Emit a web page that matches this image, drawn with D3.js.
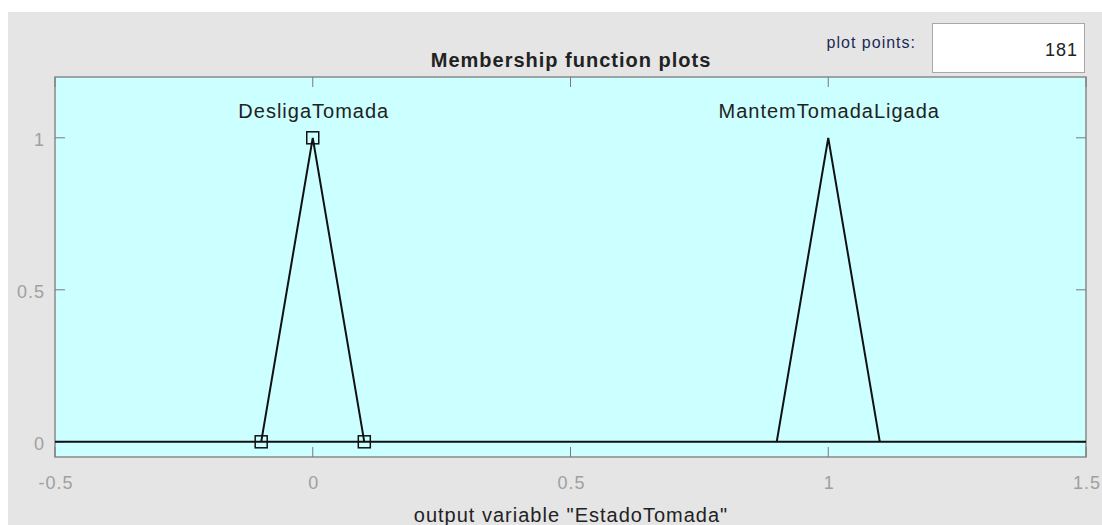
<!DOCTYPE html>
<html>
<head>
<meta charset="utf-8">
<script src="https://cdn.jsdelivr.net/npm/d3@7"></script>
<style>
  body { margin: 0; background: #fff; }
  text { font-family: 'Liberation Sans', Arial, sans-serif; letter-spacing: 1px; }
</style>
</head>
<body>
<script>
// membership functions (triangular), output variable "EstadoTomada"
const mfNames = ["DesligaTomada", "MantemTomadaLigada"];
const mfParams = [[-0.1, 0, 0.1], [0.9, 1, 1.1]];
const selectedMf = 0;
const xTicks = [-0.5, 0, 0.5, 1, 1.5];
const yTicks = [0, 0.5, 1];
const xRange = [-0.5, 1.5];
const plotPoints = 181;

const W = 1102, H = 525;
const plot = { left: 55, top: 77, right: 1086, bottom: 457 };

const svg = d3.select("body").append("svg").attr("width", W).attr("height", H);

svg.append("rect").attr("x", 8).attr("y", 12).attr("width", W - 8).attr("height", H - 12)
  .attr("fill", "#e5e5e5");

const x = d3.scaleLinear().domain(xRange).range([plot.left, plot.right]);
const y = d3.scaleLinear().domain([-0.05, 1.2]).range([plot.bottom, plot.top]);

// header
svg.append("text").attr("x", 571).attr("y", 67).attr("text-anchor", "middle")
  .attr("font-size", 20).attr("font-weight", "bold").attr("fill", "#222")
  .text("Membership function plots");
svg.append("text").attr("x", 916).attr("y", 48).attr("text-anchor", "end")
  .attr("font-size", 16).attr("fill", "#1c2a55").text("plot points:");
svg.append("rect").attr("x", 932.5).attr("y", 23.5).attr("width", 152).attr("height", 49)
  .attr("fill", "#fff").attr("stroke", "#a8a8a8");
svg.append("text").attr("x", 1078).attr("y", 56).attr("text-anchor", "end")
  .attr("font-size", 18).attr("fill", "#222").text(plotPoints);

// plot background
svg.append("rect").attr("x", plot.left).attr("y", plot.top)
  .attr("width", plot.right - plot.left).attr("height", plot.bottom - plot.top)
  .attr("fill", "#ccffff").attr("stroke", "#8a8a8a").attr("stroke-width", 1.5);

const tick = 10;
const g = svg.append("g").attr("stroke", "#7a7a7a").attr("stroke-width", 1);
xTicks.forEach(v => {
  g.append("line").attr("x1", x(v)).attr("x2", x(v)).attr("y1", plot.bottom).attr("y2", plot.bottom - tick);
  g.append("line").attr("x1", x(v)).attr("x2", x(v)).attr("y1", plot.top).attr("y2", plot.top + tick);
});
yTicks.forEach(v => {
  g.append("line").attr("x1", plot.left).attr("x2", plot.left + tick).attr("y1", y(v)).attr("y2", y(v));
  g.append("line").attr("x1", plot.right).attr("x2", plot.right - tick).attr("y1", y(v)).attr("y2", y(v));
});

svg.selectAll(".xl").data(xTicks).join("text")
  .attr("x", d => x(d) + 1).attr("y", 489).attr("text-anchor", "middle")
  .attr("font-size", 18).attr("fill", "#a0a0a0").text(d => d);
svg.selectAll(".yl").data(yTicks).join("text")
  .attr("x", 45).attr("y", d => y(d) + 8).attr("text-anchor", "end")
  .attr("font-size", 18).attr("fill", "#a0a0a0").text(d => d);

svg.append("text").attr("x", 571).attr("y", 522).attr("text-anchor", "middle")
  .attr("font-size", 20).attr("fill", "#222").text('output variable "EstadoTomada"');

// baseline
svg.append("line").attr("x1", x(xRange[0])).attr("x2", x(xRange[1]))
  .attr("y1", y(0)).attr("y2", y(0)).attr("stroke", "#111").attr("stroke-width", 2);

const lineGen = d3.line().x(d => x(d[0])).y(d => y(d[1]));
mfParams.forEach((p, i) => {
  const pts = [[p[0], 0], [p[1], 1], [p[2], 0]];
  svg.append("path").attr("d", lineGen(pts)).attr("fill", "none")
    .attr("stroke", "#111").attr("stroke-width", 2);
  svg.append("text").attr("x", x(p[1]) + 1).attr("y", 118).attr("text-anchor", "middle")
    .attr("font-size", 20).attr("fill", "#222").text(mfNames[i]);
  if (i === selectedMf) {
    svg.selectAll(null).data(pts).join("rect")
      .attr("x", d => x(d[0]) - 6).attr("y", d => y(d[1]) - 6)
      .attr("width", 12).attr("height", 12)
      .attr("fill", "none").attr("stroke", "#111").attr("stroke-width", 1.5);
  }
});
</script>
</body>
</html>
